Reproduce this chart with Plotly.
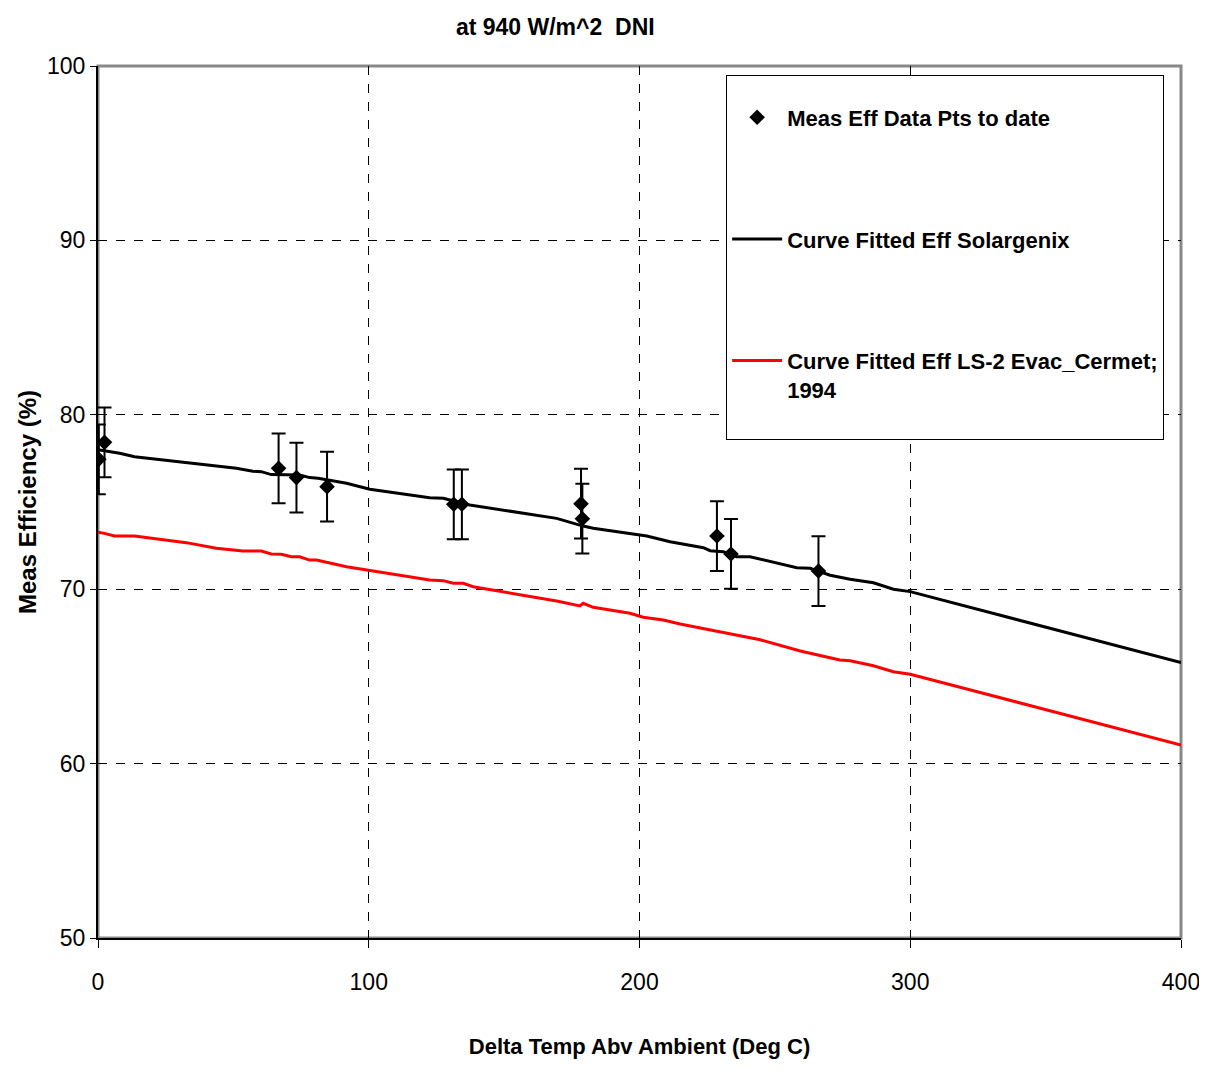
import plotly.graph_objects as go

# Measured data points
meas_x = [0.3, 2.4, 66.7, 73.3, 84.6, 131.4, 134.4, 178.4, 178.9, 228.6, 233.8, 266.1]
meas_y = [77.45, 78.42, 76.93, 76.4, 75.88, 74.87, 74.87, 74.9, 74.04, 73.05, 72.02, 71.04]
meas_err = [2, 2, 2, 2, 2, 2, 2, 2, 2, 2, 2, 2]

# Curve fitted Solargenix
sg_x = [0, 8, 13.5, 51.1, 57.2, 60.3, 64, 74.5, 78.2, 81.3, 91.8, 100.4, 122.5, 127.5,
        137.3, 169.4, 179.2, 182.9, 202.7, 211.3, 223.6, 226.1, 231, 235.9, 240.8,
        258.1, 263, 270.4, 277.8, 286.4, 293.8, 300, 400]
sg_y = [78.0, 77.8, 77.6, 76.93, 76.76, 76.74, 76.57, 76.55, 76.4, 76.36, 76.07, 75.73,
        75.25, 75.21, 74.83, 74.06, 73.62, 73.49, 73.05, 72.72, 72.38, 72.21, 72.15,
        71.86, 71.86, 71.23, 71.2, 70.8, 70.57, 70.37, 70.0, 69.86, 65.79]

# Curve fitted LS-2 Evac_Cermet 1994
ls_x = [0, 2.4, 6.1, 13.5, 32.6, 43.7, 53.5, 60.3, 64, 67.7, 71.4, 74.5, 78.2, 80.7,
        91.8, 104.1, 122.5, 127.5, 131.2, 134.9, 138.6, 169.4, 178, 179.2, 182.9,
        196.5, 201.4, 208.8, 215, 222.5, 230, 237, 244.6, 259.4, 266.8, 274, 277.8,
        286.4, 293.8, 300, 400]
ls_y = [73.26, 73.2, 73.05, 73.05, 72.67, 72.35, 72.19, 72.19, 72.02, 72.0, 71.86,
        71.86, 71.67, 71.67, 71.29, 70.97, 70.53, 70.49, 70.34, 70.34, 70.14, 69.32,
        69.04, 69.19, 68.96, 68.62, 68.39, 68.23, 68.0, 67.78, 67.55, 67.3, 67.1,
        66.46, 66.2, 65.94, 65.9, 65.61, 65.27, 65.12, 61.07]

x_ticks = [0, 100, 200, 300, 400]
y_ticks = [50, 60, 70, 80, 90, 100]

FONT = "Liberation Sans, Arial, sans-serif"

fig = go.Figure()
fig.add_trace(go.Scatter(
    x=meas_x, y=meas_y, mode="markers", name="Meas Eff Data Pts to date",
    legendgroup="a",
    marker=dict(symbol="diamond", size=12, color="black"),
    error_y=dict(type="data", array=meas_err, visible=True, color="black",
                 thickness=2, width=7),
))
fig.add_trace(go.Scatter(
    x=sg_x, y=sg_y, mode="lines", name="Curve Fitted Eff Solargenix",
    legendgroup="b", line=dict(color="black", width=3),
))
fig.add_trace(go.Scatter(
    x=ls_x, y=ls_y, mode="lines", name="Curve Fitted Eff LS-2 Evac_Cermet;<br>1994<br> ",
    legendgroup="c", line=dict(color="#ff0000", width=3),
))

fig.add_shape(type="rect", xref="paper", yref="paper", x0=0, x1=1, y0=0, y1=1,
              line=dict(color="#888888", width=3), layer="below")

fig.update_layout(
    width=1195, height=1055,
    margin=dict(l=90, r=22, t=58, b=125, autoexpand=False),
    paper_bgcolor="white", plot_bgcolor="white",
    title=dict(text="at 940 W/m^2\u00a0\u00a0DNI", x=0.458, xref="container",
               xanchor="center", y=0.982, yref="container", yanchor="middle",
               font=dict(family=FONT, size=23, color="black", weight="bold")),
    showlegend=True,
    legend=dict(x=0.58, y=0.99, xanchor="left", yanchor="top",
                bordercolor="black", borderwidth=1, bgcolor="white",
                title=dict(text=" ", font=dict(size=16)),
                font=dict(family=FONT, size=22, color="black", weight="bold"),
                tracegroupgap=90, traceorder="grouped", valign="top",
                itemwidth=50),
    xaxis=dict(range=[0, 400], tickvals=x_ticks, ticks="outside", ticklen=8,
               tickcolor="black", showline=True, linecolor="black", linewidth=2,
               showgrid=True, gridcolor="black", griddash="dash", gridwidth=1,
               zeroline=False, ticklabelstandoff=14, ticklabeloverflow="allow",
               tickfont=dict(family=FONT, size=23, color="black"),
               title=dict(text="Delta Temp Abv Ambient (Deg C)", standoff=45,
                          font=dict(family=FONT, size=22, color="black", weight="bold"))),
    yaxis=dict(range=[50, 100], tickvals=y_ticks, ticks="outside", ticklen=6,
               tickcolor="black", showline=True, linecolor="black", linewidth=2,
               showgrid=True, gridcolor="black", griddash="dash", gridwidth=1,
               zeroline=False,
               tickfont=dict(family=FONT, size=23, color="black"),
               title=dict(text="Meas Efficiency (%)", standoff=4,
                          font=dict(family=FONT, size=24, color="black", weight="bold"))),
)

fig.write_html("out.html")
